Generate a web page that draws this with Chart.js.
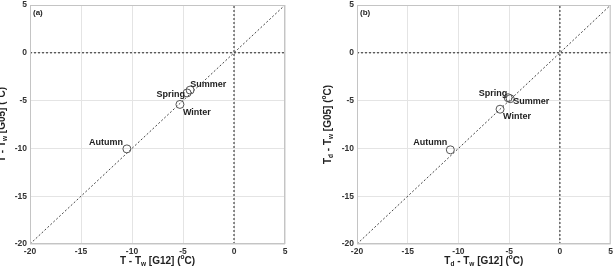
<!DOCTYPE html>
<html><head><meta charset="utf-8">
<script src="https://cdn.jsdelivr.net/npm/chart.js@4"></script>
<style>
body{margin:0;background:#fff;width:616px;height:266px;overflow:hidden;position:relative}
.box{position:absolute;top:0;height:266px}
</style></head><body>
<div class="box" style="left:0;width:300px"><canvas id="chartA" width="300" height="266"></canvas></div>
<div class="box" style="left:300px;width:316px"><canvas id="chartB" width="316" height="266"></canvas></div>
<script>
// seasonal mean differences, G05 vs G12
const seasons = ['Spring', 'Summer', 'Autumn', 'Winter']
const xA = [-4.6, -4.3, -10.5, -5.3]
const yA = [-4.2, -3.9, -10.05, -5.4]
const xB = [-5.1, -4.9, -10.8, -5.9]
const yB = [-4.7, -4.8, -10.15, -5.9]
const axisMin = -20
const axisMax = 5
const axisStep = 5
const fontFam = '"Liberation Sans", Arial, sans-serif'

// label placement next to each point (same order as seasons)
const placeA = [
  {align: 'right', dx: -2, dy: 2},
  {align: 'left', dx: 0, dy: -6},
  {align: 'right', dx: -4, dy: -6},
  {align: 'left', dx: 3, dy: 8}
]
const placeB = [
  {align: 'right', dx: -1, dy: -4},
  {align: 'left', dx: 3, dy: 3},
  {align: 'right', dx: -3, dy: -7},
  {align: 'left', dx: 3, dy: 7}
]

const drawRuns = (ctx, runs, cx, cy, size) => {
  let w = 0
  runs.forEach(r => {
    ctx.font = 'bold ' + (r[1] == 'n' ? size : size * 0.65) + 'px ' + fontFam
    w += ctx.measureText(r[0]).width
  })
  let x = cx - w / 2
  runs.forEach(r => {
    let s = r[1] == 'n' ? size : size * 0.65
    ctx.font = 'bold ' + s + 'px ' + fontFam
    let yy = cy
    if (r[1] == 'sub') yy = cy + size * 0.3
    if (r[1] == 'sup') yy = cy - size * 0.35
    ctx.fillText(r[0], x, yy)
    x += ctx.measureText(r[0]).width
  })
}

const extras = {
  id: 'extras',
  afterDatasetsDraw(chart) {
    const o = chart.options.plugins.extras
    const ctx = chart.ctx
    const a = chart.chartArea
    ctx.save()
    ctx.strokeStyle = '#c4c4c4'
    ctx.lineWidth = 1
    ctx.strokeRect(a.left + 0.5, a.top + 0.5, a.right - a.left - 1, a.bottom - a.top - 1)
    ctx.fillStyle = '#222'
    ctx.textBaseline = 'middle'
    ctx.font = 'bold 8px ' + fontFam
    ctx.textAlign = 'left'
    ctx.fillText(o.panel, a.left + 3, a.top + 8)
    const meta = chart.getDatasetMeta(0)
    ctx.font = 'bold 9px ' + fontFam
    meta.data.forEach((p, i) => {
      const pl = o.place[i]
      ctx.textAlign = pl.align
      ctx.fillText(seasons[i], p.x + pl.dx, p.y + pl.dy)
    })
    ctx.textAlign = 'left'
    drawRuns(ctx, o.xTitle, (a.left + a.right) / 2, chart.height - 5, 10)
    ctx.translate(o.yTitleX, (a.top + a.bottom) / 2)
    ctx.rotate(-Math.PI / 2)
    drawRuns(ctx, o.yTitle, 0, 0, 10)
    ctx.restore()
  }
}

const makeChart = (id, xs, ys, place, panel, xTitle, yTitle, yw, yTitleX, padRight) => {
  const pts = xs.map((x, i) => ({x: x, y: ys[i]}))
  const scaleBase = {
    type: 'linear', min: axisMin, max: axisMax,
    ticks: {stepSize: axisStep, color: '#333', font: {family: fontFam, size: 8.5, weight: 'bold', lineHeight: 1}, padding: 3},
    grid: {color: '#e4e4e4', drawTicks: false},
    border: {display: false}
  }
  return new Chart(document.getElementById(id), {
    type: 'scatter',
    data: {
      datasets: [
        {data: pts, pointRadius: 4, pointBorderColor: '#555', pointBackgroundColor: 'rgba(255,255,255,0)', pointBorderWidth: 1, order: 0},
        {type: 'line', data: [{x: axisMin, y: axisMin}, {x: axisMax, y: axisMax}], borderColor: '#444', borderWidth: 1, borderDash: [2, 2], pointRadius: 0, order: 1},
        {type: 'line', data: [{x: 0, y: axisMin}, {x: 0, y: axisMax}], borderColor: '#222', borderWidth: 1, borderDash: [2, 2], pointRadius: 0, order: 1},
        {type: 'line', data: [{x: axisMin, y: 0}, {x: axisMax, y: 0}], borderColor: '#222', borderWidth: 1, borderDash: [2, 2], pointRadius: 0, order: 1}
      ]
    },
    options: {
      responsive: false, animation: false,
      layout: {padding: {top: 0, right: padRight, left: 0, bottom: 0}},
      scales: {
        x: Object.assign({}, scaleBase, {afterFit: s => { s.height = 22 }}),
        y: Object.assign({}, scaleBase, {afterFit: s => { s.width = yw; s.paddingTop = 5 }})
      },
      plugins: {
        legend: {display: false}, tooltip: {enabled: false},
        extras: {place: place, panel: panel, xTitle: xTitle, yTitle: yTitle, yTitleX: yTitleX}
      }
    },
    plugins: [extras]
  })
}

makeChart('chartA', xA, yA, placeA, '(a)',
  [['T - T', 'n'], ['w', 'sub'], [' [G12] (', 'n'], ['o', 'sup'], ['C)', 'n']],
  [['T - T', 'n'], ['w', 'sub'], [' [G05] (', 'n'], ['o', 'sup'], ['C)', 'n']],
  30, 2, 15)
makeChart('chartB', xB, yB, placeB, '(b)',
  [['T', 'n'], ['d', 'sub'], [' - T', 'n'], ['w', 'sub'], [' [G12] (', 'n'], ['o', 'sup'], ['C)', 'n']],
  [['T', 'n'], ['d', 'sub'], [' - T', 'n'], ['w', 'sub'], [' [G05] (', 'n'], ['o', 'sup'], ['C)', 'n']],
  57, 28, 4)
</script>
</body></html>
